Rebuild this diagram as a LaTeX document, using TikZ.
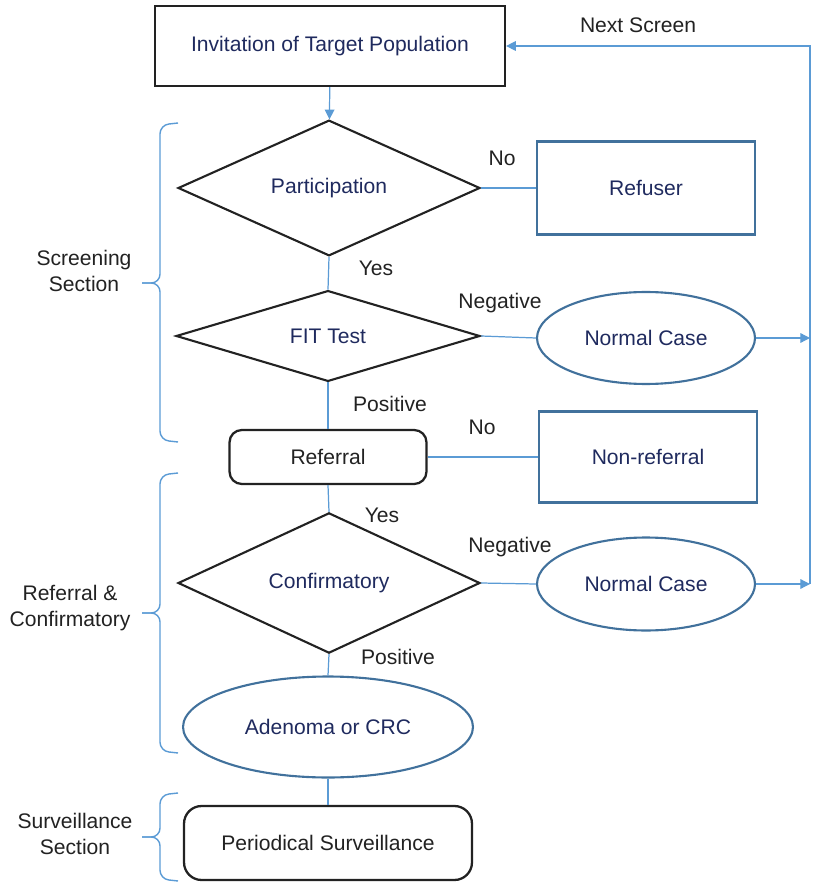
\documentclass[tikz,border=0pt]{standalone}
\usepackage{fontspec}
\setmainfont{Liberation Sans}
\usetikzlibrary{shapes.geometric,arrows.meta}
\definecolor{navytext}{HTML}{1F2A5E}
\definecolor{shapeblue}{HTML}{41719C}
\definecolor{lineblue}{HTML}{5B9BD5}
\definecolor{labelgray}{HTML}{222222}

\begin{document}
\begin{tikzpicture}[x=0.02cm,y=-0.02cm,
  font=\fontsize{12}{14.5}\selectfont,
  blackbox/.style={draw=labelgray,line width=1.3pt,text=navytext,inner sep=0pt},
  decision/.style={diamond,draw=labelgray,line width=1.2pt,text=navytext,inner sep=0pt},
  roundbox/.style={rectangle,rounded corners=7pt,draw=labelgray,line width=1.3pt,text=labelgray,inner sep=0pt},
  outbox/.style={draw=shapeblue,line width=1.2pt,text=navytext,inner sep=0pt,minimum width=4.36cm},
  outcase/.style={ellipse,draw=shapeblue,line width=1.2pt,text=navytext,inner sep=0pt},
  conn/.style={draw=lineblue,line width=0.7pt},
  tip/.style={-{Triangle[length=5.5pt,width=5.5pt]}},
  lbl/.style={text=labelgray,inner sep=0pt},
  sectbrace/.style={draw=lineblue,line width=0.8pt,rounded corners=5pt}
]
\useasboundingbox (0,0) rectangle (812,884);

\node[blackbox,minimum width=7cm,minimum height=1.6cm] (inv) at (330,46) {Invitation of Target Population};
\node[decision,minimum width=6.04cm,minimum height=2.64cm] (part) at (329,188) {Participation};
\node[outbox,minimum height=1.86cm] (refuser) at (646,188) {Refuser};
\node[decision,minimum width=6.08cm,minimum height=1.76cm] (fit) at (328,336) {FIT Test};
\node[outcase,minimum width=4.36cm,minimum height=1.84cm] (normA) at (646,338) {Normal Case};
\node[roundbox,minimum width=3.94cm,minimum height=1.08cm] (referral) at (328,457) {Referral};
\node[outbox,minimum height=1.82cm] (nonref) at (648,457) {Non-referral};
\node[decision,minimum width=6.04cm,minimum height=2.28cm] (conf) at (329,583) {Confirmatory};
\node[outcase,minimum width=4.36cm,minimum height=1.86cm] (normB) at (646,584) {Normal Case};
\node[outcase,minimum width=5.8cm,minimum height=2.02cm] (aden) at (328,727) {Adenoma or CRC};
\node[roundbox,rounded corners=10pt,minimum width=5.76cm,minimum height=1.48cm] (surv) at (328,843) {Periodical Surveillance};

\coordinate (backA) at (810,338);
\coordinate (backB) at (810,584);
\coordinate (backtop) at (810,46);

\draw[conn,tip] (inv) -- (part);
\draw[conn] (part.east) -- (refuser.west);
\draw[conn] (part.south) -- (fit.north);
\draw[conn] (fit.east) -- (normA.west);
\draw[conn] (fit.south) -- (referral.north);
\draw[conn] (referral.east) -- (nonref.west);
\draw[conn] (referral.south) -- (conf.north);
\draw[conn] (conf.east) -- (normB.west);
\draw[conn] (conf.south) -- (aden.north);
\draw[conn] (aden.south) -- (surv.north);
\draw[conn,tip] (normA.east) -- (backA);
\draw[conn,tip] (normB.east) -- (backB);
\draw[conn,tip] (backB) -- (backtop) -- (inv.east);

\node[lbl] (nextlbl) at (638,25) {Next Screen};
\node[lbl] (nolblA) at (502,158) {No};
\node[lbl] (yeslblA) at (376,268) {Yes};
\node[lbl] (neglblA) at (500,303) {Negative};
\node[lbl] (poslblA) at (390,404) {Positive};
\node[lbl] (nolblB) at (482,427) {No};
\node[lbl] (yeslblB) at (382,515) {Yes};
\node[lbl] (neglblB) at (510,547) {Negative};
\node[lbl] (poslblB) at (398,657) {Positive};

% section braces
\draw[sectbrace] (178,123) -- (160,125) -- (160,283) -- (142,283);
\draw[sectbrace] (178,442) -- (160,440) -- (160,283) -- (142,283);
\draw[sectbrace] (178,473) -- (160,475) -- (160,613) -- (142,613);
\draw[sectbrace] (178,753) -- (160,751) -- (160,613) -- (142,613);
\draw[sectbrace] (178,793) -- (160,795) -- (160,837) -- (142,837);
\draw[sectbrace] (178,881) -- (160,879) -- (160,837) -- (142,837);

\node[lbl,align=center] (screenlbl) at (84,271) {Screening\\Section};
\node[lbl,align=center] (confirmlbl) at (70,608) {Referral \&\\Confirmatory};
\node[lbl,align=center] (survlbl) at (75,834) {Surveillance\\Section};
\end{tikzpicture}
\end{document}
